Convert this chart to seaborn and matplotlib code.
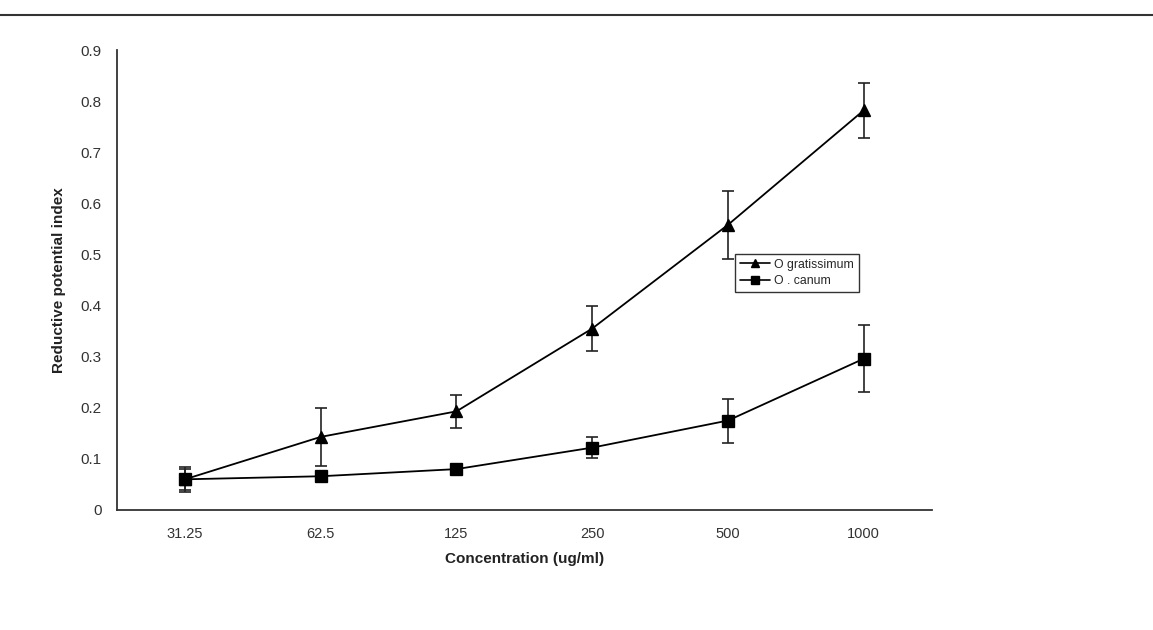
import matplotlib
matplotlib.use("Agg")
import matplotlib.pyplot as plt
import seaborn as sns
import pandas as pd
import numpy as np
from matplotlib.lines import Line2D

concentrations = ["31.25", "62.5", "125", "250", "500", "1000"]
gratissimum = [0.060, 0.143, 0.193, 0.355, 0.558, 0.782]
gratissimum_err = [0.020, 0.056, 0.032, 0.044, 0.067, 0.054]
canum = [0.060, 0.066, 0.080, 0.122, 0.175, 0.296]
canum_err = [0.024, 0.006, 0.006, 0.020, 0.043, 0.065]
series_names = ["O gratissimum", "O . canum"]
y_ticks = [0, 0.1, 0.2, 0.3, 0.4, 0.5, 0.6, 0.7, 0.8, 0.9]
y_tick_labels = ["0", "0.1", "0.2", "0.3", "0.4", "0.5", "0.6", "0.7", "0.8", "0.9"]

df = pd.DataFrame({
    "conc": concentrations * 2,
    "value": gratissimum + canum,
    "err": gratissimum_err + canum_err,
    "series": [series_names[0]] * 6 + [series_names[1]] * 6,
})

sns.set_style("white")
plt.rcParams["font.family"] = ["Liberation Sans", "DejaVu Sans"]

fig = plt.figure(figsize=(11.53, 6.3), dpi=100)
ax = fig.add_axes([0.1015, 0.1905, 0.7065, 0.7301])

sns.pointplot(data=df, x="conc", y="value", hue="series", order=concentrations,
              hue_order=series_names, palette=["black", "black"],
              markers=["^", "s"], linestyles=["-", "-"], errorbar=None,
              linewidth=1.3, markersize=8.5, ax=ax, legend=False)

for name in series_names:
    sub = df[df["series"] == name]
    ax.errorbar(np.arange(len(concentrations)), sub["value"], yerr=sub["err"],
                fmt="none", ecolor="#222222", elinewidth=1.2, capsize=4,
                capthick=1.2, zorder=1)

ax.set_xlim(-0.5, 5.5)
ax.set_ylim(0, 0.9)
ax.set_yticks(y_ticks)
ax.set_yticklabels(y_tick_labels, fontsize=11, color="#333333")
ax.set_xticks(np.arange(-0.5, 6.0, 1.0))
ax.set_xticklabels([""] * 7)
ax.set_xticks(np.arange(len(concentrations)), minor=True)
ax.set_xticklabels(concentrations, minor=True, fontsize=10.5, color="#333333")
ax.tick_params(axis="x", which="minor", length=0, pad=12)
ax.tick_params(axis="x", which="major", direction="out", length=5, width=1, color="#333333")
ax.tick_params(axis="y", direction="out", length=8, width=1, color="#333333", pad=3)

for s in ["top", "right"]:
    ax.spines[s].set_visible(False)
for s in ["left", "bottom"]:
    ax.spines[s].set_color("#333333")
    ax.spines[s].set_linewidth(1.3)

ax.set_xlabel("Concentration (ug/ml)", fontsize=11, fontweight="bold",
              labelpad=8, color="#222222")
ax.set_ylabel("Reductive potential index", fontsize=11, fontweight="bold",
              color="#222222")
ax.yaxis.set_label_coords(-0.063, 0.5)

handles = [Line2D([0], [0], color="black", marker=m, markersize=6, linewidth=1.2)
           for m in ["^", "s"]]
leg = ax.legend(handles, series_names, loc="upper left", bbox_to_anchor=(0.759, 0.557),
                fontsize=8.8, frameon=True, fancybox=False, handlelength=2.4,
                borderpad=0.4, labelspacing=0.35, handletextpad=0.4, borderaxespad=0)
leg.get_frame().set_edgecolor("black")
leg.get_frame().set_linewidth(1.0)

fig.add_artist(Line2D([0.0, 1.0], [1 - 15 / 630, 1 - 15 / 630], color="#333333",
                      linewidth=1.5, transform=fig.transFigure))

fig.savefig("out.png", dpi=100, facecolor="white")
